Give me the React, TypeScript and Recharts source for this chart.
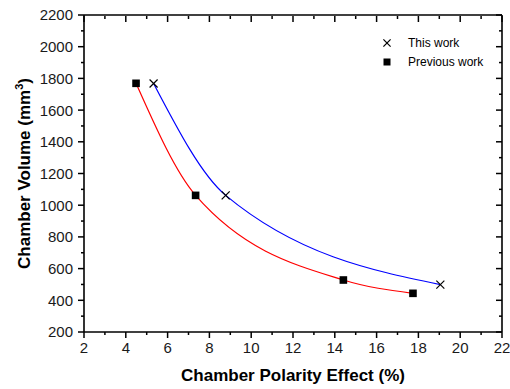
import React from "react";
import {
  ComposedChart,
  Scatter,
  Line,
  XAxis,
  YAxis,
  Legend,
} from "recharts";

const FONT = '"Liberation Sans", Arial, Helvetica, sans-serif';

// values
const thisWorkX = [5.33, 8.78, 19.05];
const thisWorkY = [1768, 1062, 499];
const prevWorkX = [4.49, 7.34, 14.41, 17.74];
const prevWorkY = [1769, 1062, 528, 444];

const xMajor = [2, 4, 6, 8, 10, 12, 14, 16, 18, 20, 22];
const xMinor = [3, 5, 7, 9, 11, 13, 15, 17, 19, 21];
const yMajor = [200, 400, 600, 800, 1000, 1200, 1400, 1600, 1800, 2000, 2200];
const yMinor = [300, 500, 700, 900, 1100, 1300, 1500, 1700, 1900, 2100];

const xAll = [...xMajor, ...xMinor].sort((a, b) => a - b);
const yAll = [...yMajor, ...yMinor].sort((a, b) => a - b);

const thisWork = thisWorkX.map((x, i) => ({ x, y: thisWorkY[i] }));
const prevWork = prevWorkX.map((x, i) => ({ x, y: prevWorkY[i] }));

const MAJOR = 6;
const MINOR = 3;
const TICK_W = 1.5;

const BottomTick = (props: any) => {
  const { x, y, payload } = props;
  const major = xMajor.includes(payload.value);
  return (
    <g>
      <line x1={x} x2={x} y1={y} y2={y + (major ? MAJOR : MINOR)} stroke="#000" strokeWidth={TICK_W} />
      {major && (
        <text x={x} y={y + 21} textAnchor="middle" fontSize={15} fill="#1a1a1a" fontFamily={FONT}>
          {payload.value}
        </text>
      )}
    </g>
  );
};

const LeftTick = (props: any) => {
  const { x, y, payload } = props;
  const major = yMajor.includes(payload.value);
  return (
    <g>
      <line x1={x} x2={x - (major ? MAJOR : MINOR)} y1={y} y2={y} stroke="#000" strokeWidth={TICK_W} />
      {major && (
        <text x={x - 11} y={y} dy="0.36em" textAnchor="end" fontSize={15} fill="#1a1a1a" fontFamily={FONT}>
          {payload.value}
        </text>
      )}
    </g>
  );
};

const TopTick = (props: any) => {
  const { x, y, payload } = props;
  const major = xMajor.includes(payload.value);
  return <line x1={x} x2={x} y1={y + 1} y2={y + 1 + (major ? MAJOR : MINOR)} stroke="#000" strokeWidth={TICK_W} />;
};

const RightTick = (props: any) => {
  const { x, y, payload } = props;
  const major = yMajor.includes(payload.value);
  return <line x1={x} x2={x - (major ? MAJOR : MINOR)} y1={y} y2={y} stroke="#000" strokeWidth={TICK_W} />;
};

const Cross = ({ cx, cy, s = 4 }: { cx: number; cy: number; s?: number }) => (
  <g stroke="#000" strokeWidth={1.2}>
    <line x1={cx - s} y1={cy - s} x2={cx + s} y2={cy + s} />
    <line x1={cx - s} y1={cy + s} x2={cx + s} y2={cy - s} />
  </g>
);

const Square = ({ cx, cy, s = 3.8 }: { cx: number; cy: number; s?: number }) => (
  <rect x={cx - s} y={cy - s} width={s * 2} height={s * 2} fill="#000" />
);

const LegendBox = () => (
  <svg width={130} height={40} style={{ overflow: "visible" }}>
    <Cross cx={12} cy={6} s={3.6} />
    <text x={33} y={10} fontSize={12} fontFamily={FONT} fill="#000">This work</text>
    <Square cx={12} cy={25} s={3.5} />
    <text x={33} y={29} fontSize={12} fontFamily={FONT} fill="#000">Previous work</text>
  </svg>
);

export default function App() {
  return (
    <div style={{ position: "absolute", left: 0, top: 0, background: "#fff" }}>
      <ComposedChart
        width={510}
        height={389}
        margin={{ top: 14, right: 7, left: 34, bottom: 27 }}
      >
        <XAxis
          dataKey="x"
          type="number"
          domain={[2, 22]}
          ticks={xAll}
          interval={0}
          height={30}
          tickSize={0}
          tickMargin={0}
          tick={<BottomTick />}
          axisLine={{ stroke: "#000", strokeWidth: 1.6 }}
          allowDataOverflow
          label={{
            value: "Chamber Polarity Effect (%)",
            position: "insideBottom",
            offset: -19,
            fontSize: 17,
            fontWeight: "bold",
            fontFamily: FONT,
            fill: "#000",
          }}
        />
        <XAxis
          xAxisId="top"
          dataKey="x"
          orientation="top"
          type="number"
          domain={[2, 22]}
          ticks={xAll}
          interval={0}
          height={1}
          tickSize={0}
          tickMargin={0}
          tick={<TopTick />}
          axisLine={{ stroke: "#000", strokeWidth: 1.6 }}
          allowDataOverflow
        />
        <YAxis
          type="number"
          domain={[200, 2200]}
          ticks={yAll}
          interval={0}
          width={50}
          tickSize={0}
          tickMargin={0}
          tick={<LeftTick />}
          axisLine={{ stroke: "#000", strokeWidth: 1.6 }}
          allowDataOverflow
          label={(p: any) => {
            const vb = p.viewBox || {};
            const cx = 30;
            const cy = (vb.y ?? 15) + (vb.height ?? 317) / 2;
            return (
              <text
                x={cx}
                y={cy}
                transform={`rotate(-90, ${cx}, ${cy})`}
                textAnchor="middle"
                fontSize={17}
                fontWeight="bold"
                fontFamily={FONT}
                fill="#000"
              >
                Chamber Volume (mm
                <tspan dy={-7} fontSize={11}>3</tspan>
                <tspan dy={7}>)</tspan>
              </text>
            );
          }}
        />
        <YAxis
          yAxisId="right"
          orientation="right"
          type="number"
          domain={[200, 2200]}
          ticks={yAll}
          interval={0}
          width={1}
          tickSize={0}
          tickMargin={0}
          tick={<RightTick />}
          axisLine={{ stroke: "#000", strokeWidth: 1.6 }}
          allowDataOverflow
        />
        {/* invisible series so the top and right frame axes get drawn */}
        <Line
          xAxisId="top"
          yAxisId="right"
          data={prevWork}
          dataKey="y"
          stroke="none"
          dot={false}
          activeDot={false}
          isAnimationActive={false}
          legendType="none"
        />
        <Line
          data={prevWork}
          dataKey="y"
          type="monotone"
          stroke="#ff0000"
          strokeWidth={1.2}
          dot={false}
          activeDot={false}
          isAnimationActive={false}
          legendType="none"
        />
        <Line
          data={thisWork}
          dataKey="y"
          type="monotone"
          stroke="#0000ff"
          strokeWidth={1.2}
          dot={false}
          activeDot={false}
          isAnimationActive={false}
          legendType="none"
        />
        <Scatter
          data={prevWork}
          dataKey="y"
          isAnimationActive={false}
          shape={(p: any) => <Square cx={p.cx} cy={p.cy} />}
        />
        <Scatter
          data={thisWork}
          dataKey="y"
          isAnimationActive={false}
          shape={(p: any) => <Cross cx={p.cx} cy={p.cy} />}
        />
        <Legend
          layout="horizontal"
          verticalAlign="middle"
          align="center"
          content={() => <LegendBox />}
          wrapperStyle={{ position: "absolute", left: 375, top: 37, width: 130, height: 40 }}
        />
      </ComposedChart>
    </div>
  );
}
